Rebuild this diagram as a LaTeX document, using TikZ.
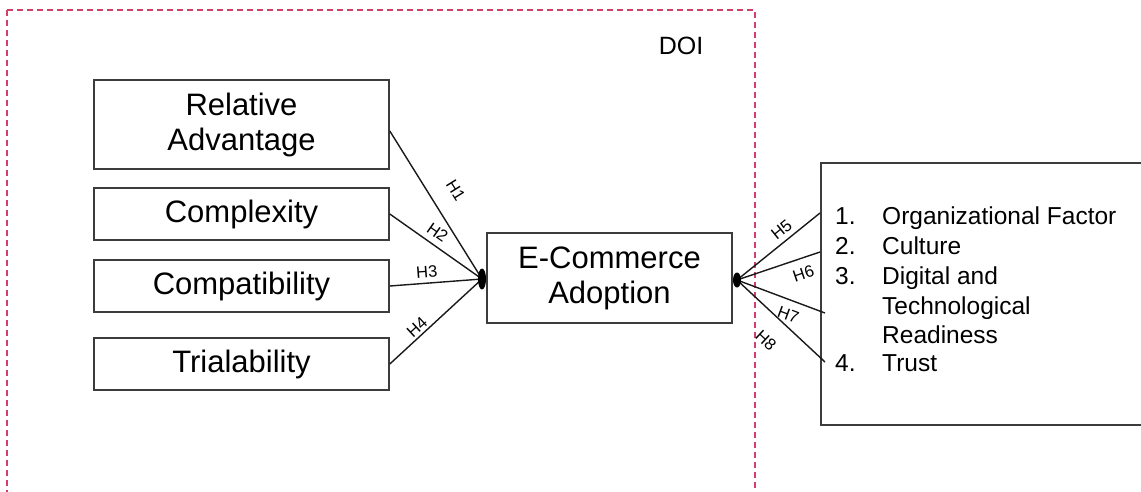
\documentclass[tikz,border=0pt]{standalone}
\usepackage{fontspec}
\setmainfont{Liberation Sans}
\usetikzlibrary{shapes.geometric}
\definecolor{doired}{RGB}{208,64,106}
\definecolor{boxgray}{RGB}{60,60,60}
\begin{document}
\begin{tikzpicture}[x=1pt,y=-1pt,
  factor/.style={draw=boxgray, line width=1.6pt, minimum width=295pt, align=center,
    font=\fontsize{31}{35}\selectfont, inner sep=0pt},
  conn/.style={draw=black!90, line width=1.4pt},
  lab/.style={font=\fontsize{16.5}{18}\selectfont, inner sep=0pt, sloped},
  item/.style={anchor=base west, font=\fontsize{24.5}{30}\selectfont, inner sep=0pt},
  blob/.style={ellipse, fill=black, inner sep=0pt, minimum width=8pt}]
\useasboundingbox (0,0) rectangle (1141,491);
% DOI frame
\draw[doired, line width=1.3pt, dash pattern=on 6pt off 4pt] (7,10) rectangle (755,515);
\node[font=\fontsize{25}{30}\selectfont, inner sep=0pt] (doi) at (681,46) {DOI};
% left factors
\node[factor, minimum height=89pt] (rel) at (241.5,124.5) {Relative\\Advantage};
\node[factor, minimum height=52pt] (cplx) at (241.5,214) {Complexity};
\node[factor, minimum height=52pt] (comp) at (241.5,286) {Compatibility};
\node[factor, minimum height=52pt] (trial) at (241.5,364) {Trialability};
% center
\node[factor, minimum width=245pt, minimum height=90pt] (eca) at (609.5,278) {E-Commerce\\Adoption};
% right box
\node[draw=boxgray, line width=1.6pt, minimum width=324pt, minimum height=262pt, inner sep=0pt] (rbox) at (983,294) {};
\node[item] (n1) at (835,224) {1.};
\node[item] (t1) at (882,224) {Organizational Factor};
\node[item] (n2) at (835,254) {2.};
\node[item] (t2) at (882,254) {Culture};
\node[item] (n3) at (835,284) {3.};
\node[item] (t3) at (882,284) {Digital and};
\node[item] (t3b) at (882,314) {Technological};
\node[item] (t3c) at (882,343) {Readiness};
\node[item] (n4) at (835,371) {4.};
\node[item] (t4) at (882,371) {Trust};
% endpoints on the right
\coordinate (e5) at (820,213);
\coordinate (e6) at (820,252);
\coordinate (e7) at (825,313);
\coordinate (e8) at (825,362);
% left connectors
\coordinate (bc) at (482,279);
\draw[conn] ([yshift=-6.5pt]rel.east) -- (bc) node[lab, pos=0.49, above=18pt] (h1) {H1};
\draw[conn] (cplx.east) -- (bc) node[lab, pos=0.44, above=6pt] (h2) {H2};
\draw[conn] (comp.east) -- (bc) node[lab, pos=0.41, above=5pt] (h3) {H3};
\draw[conn] (trial.east) -- (bc) node[lab, pos=0.36, above=2.5pt] (h4) {H4};
\node[blob, minimum height=21pt] (bl) at (482,279) {};
% right connectors
\coordinate (rc) at (737,280);
\draw[conn] (rc) -- (e5) node[lab, pos=0.62, above=4.5pt] (h5) {H5};
\draw[conn] (rc) -- (e6) node[lab, pos=0.74, below=9pt] (h6) {H6};
\draw[conn] (rc) -- (e7) node[lab, pos=0.64, below=8pt] (h7) {H7};
\draw[conn] (rc) -- (e8) node[lab, pos=0.52, below=18pt] (h8) {H8};
\node[blob, minimum height=15pt] (br) at (737,280) {};
\end{tikzpicture}
\end{document}
